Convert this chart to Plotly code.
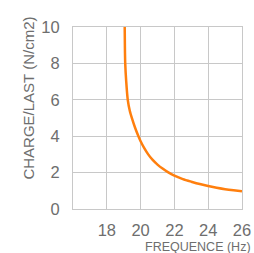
import plotly.graph_objects as go

freq = [19.06, 19.07, 19.09, 19.15, 19.24, 19.36, 19.5, 19.68, 19.86, 20.0, 20.2, 20.45, 20.7, 21.0, 21.3, 21.64, 22.0, 22.5, 23.0, 23.5, 24.0, 24.5, 25.0, 25.5, 26.0]
charge = [10.0, 9.0, 8.0, 7.0, 6.0, 5.4, 4.95, 4.45, 4.02, 3.72, 3.37, 3.0, 2.71, 2.44, 2.22, 2.01, 1.83, 1.64, 1.5, 1.37, 1.26, 1.17, 1.09, 1.03, 0.98]

x_ticks = [18, 20, 22, 24, 26]
y_ticks = [0, 2, 4, 6, 8, 10]

grey = "#6e6e6e"
fig = go.Figure()
fig.add_trace(go.Scatter(x=freq, y=charge, mode="lines", line=dict(color="#ff7f0e", width=2.5, shape="spline", smoothing=0.6), hoverinfo="skip"))

fig.update_layout(
    width=254, height=253, autosize=False,
    margin=dict(l=73, r=12, t=27, b=44),
    paper_bgcolor="white", plot_bgcolor="white",
    showlegend=False,
    font=dict(family="Liberation Sans", color=grey),
)
fig.update_xaxes(range=[16, 26], tickvals=x_ticks, ticktext=[str(v) for v in x_ticks],
                 showgrid=True, gridcolor="#c8c8c8", gridwidth=1, automargin=False,
                 showline=True, linecolor="#c8c8c8", linewidth=1, mirror=True,
                 zeroline=False, ticks="", tickfont=dict(size=16.5, color=grey), ticklabelstandoff=6)
fig.update_yaxes(range=[0, 10], tickvals=y_ticks, ticktext=[str(v) for v in y_ticks],
                 showgrid=True, gridcolor="#c8c8c8", gridwidth=1, automargin=False,
                 showline=True, linecolor="#c8c8c8", linewidth=1, mirror=True,
                 zeroline=False, ticks="", tickfont=dict(size=16.5, color=grey), ticklabelstandoff=9)

fig.add_annotation(text="FREQUENCE (Hz)", xref="paper", yref="paper", x=1.065, y=-0.211,
                   xanchor="right", yanchor="middle", showarrow=False, font=dict(size=12.5, color=grey))
fig.add_annotation(text="CHARGE/LAST (N/cm2)", xref="paper", yref="paper", x=-0.266, y=0.607,
                   xanchor="center", yanchor="middle", textangle=-90, showarrow=False, font=dict(size=15, color=grey))

fig.write_html("out.html", config={"responsive": False, "displayModeBar": False},
               post_script="document.body.style.margin='0';document.body.style.overflow='hidden';")
